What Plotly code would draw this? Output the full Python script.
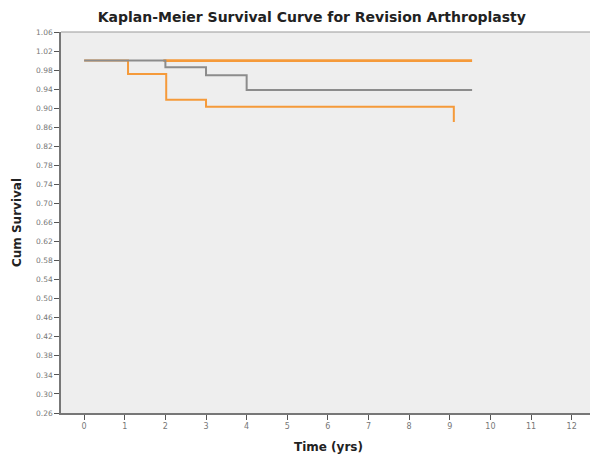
import plotly.graph_objects as go

# Data
gray_t = [0, 2, 2, 3, 3, 4, 4, 9.55]
gray_s = [1.0, 1.0, 0.986, 0.986, 0.969, 0.969, 0.938, 0.938]

orange_top_t = [1.95, 9.55]
orange_top_s = [1.0, 1.0]

orange_low_t = [0, 1.08, 1.08, 2.02, 2.02, 3.0, 3.0, 9.1, 9.1]
orange_low_s = [1.0, 1.0, 0.972, 0.972, 0.918, 0.918, 0.903, 0.903, 0.871]

y_ticks = [round(0.26 + 0.04 * i, 2) for i in range(21)]
x_ticks = list(range(0, 13))

ORANGE = "#F59A3A"
GRAY = "#8C8C8C"
TFONT = "DejaVu Sans, Verdana, sans-serif"

fig = go.Figure()
fig.add_trace(go.Scatter(x=orange_top_t, y=orange_top_s, mode="lines",
                         line=dict(color=ORANGE, width=2.6), showlegend=False))
fig.add_trace(go.Scatter(x=orange_low_t, y=orange_low_s, mode="lines",
                         line=dict(color=ORANGE, width=2), showlegend=False))
fig.add_trace(go.Scatter(x=gray_t, y=gray_s, mode="lines",
                         line=dict(color=GRAY, width=2), showlegend=False))

fig.update_layout(
    width=590, height=448,
    margin=dict(l=53, r=2, t=24, b=43),
    paper_bgcolor="white", plot_bgcolor="#EEEEEE",
    font=dict(family=TFONT, color="#333"),
    title=dict(text="<b>Kaplan-Meier Survival Curve for Revision Arthroplasty</b>",
               x=0.515, xanchor="center", y=0.98, yanchor="middle",
               font=dict(family=TFONT, size=14, color="#222")),
    xaxis=dict(range=[-0.57, 12.6], tickvals=x_ticks, ticktext=[str(v) for v in x_ticks],
               ticks="outside", ticklen=5, tickcolor="#555", showgrid=False, zeroline=False,
               showline=True, linecolor="#777", linewidth=1.5, automargin=False,
               tickfont=dict(family=TFONT, size=8, color="#777"),
               title=dict(text="<b>Time (yrs)</b>", font=dict(family=TFONT, size=12, color="#222"), standoff=12)),
    yaxis=dict(range=[0.26, 1.06], tickvals=y_ticks, ticktext=[f"{v:.2f}" for v in y_ticks],
               ticks="outside", ticklen=5, tickcolor="#555", showgrid=False, zeroline=False,
               showline=True, linecolor="#777", linewidth=1.5, automargin=False,
               tickfont=dict(family=TFONT, size=7.5, color="#777"),
               title=dict(text="<b>Cum Survival</b>", font=dict(family=TFONT, size=12, color="#222"), standoff=12)),
    shapes=[dict(type="line", xref="paper", yref="paper", x0=0, x1=1, y0=1, y1=1,
                 line=dict(color="#9A9A9A", width=1.2))],
)

fig.write_html("out.html")
